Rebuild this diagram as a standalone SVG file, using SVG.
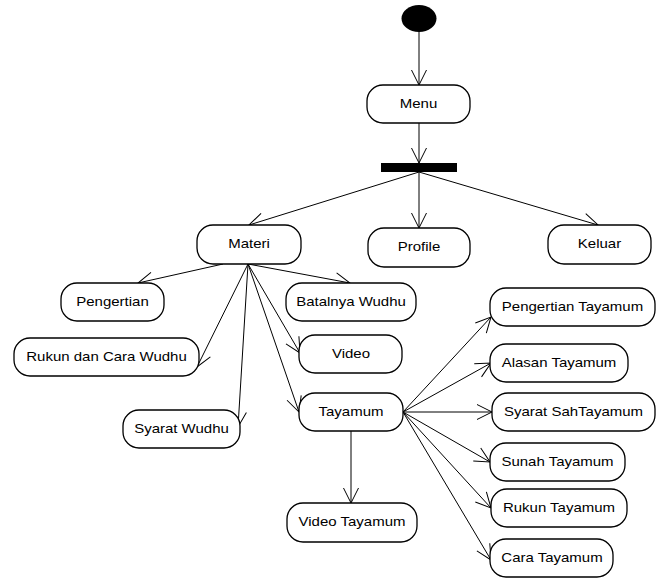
<svg xmlns="http://www.w3.org/2000/svg" width="664" height="578" viewBox="0 0 664 578">
<defs>
<style>
.n{fill:#fff;stroke:#000;stroke-width:1.3}
.t{font-family:"Liberation Sans",Arial,sans-serif;font-size:12.5px;fill:#000;text-anchor:middle}
.c{fill:none;stroke:#000;stroke-width:1}
</style>
<marker id="a" markerUnits="userSpaceOnUse" markerWidth="20" markerHeight="20" refX="16" refY="8" orient="auto" overflow="visible">
<path d="M1,0.5 L16,8 L1,15.5" fill="none" stroke="#000" stroke-width="1"/>
</marker>
</defs>
<rect width="664" height="578" fill="#fff"/>
<g id="connectors" class="c" marker-end="url(#a)">
<line x1="419" y1="31" x2="419" y2="85"/>
<line x1="419" y1="123" x2="419" y2="163"/>
<line x1="419" y1="172" x2="249" y2="225"/>
<line x1="419" y1="172" x2="419" y2="228"/>
<line x1="419" y1="172" x2="598" y2="225"/>
<line x1="223" y1="264" x2="138" y2="283"/>
<line x1="248" y1="264" x2="350" y2="283"/>
<line x1="248" y1="264" x2="197" y2="367"/>
<line x1="248" y1="264" x2="238" y2="427"/>
<line x1="248" y1="264" x2="300" y2="353"/>
<line x1="248" y1="264" x2="299" y2="412"/>
<line x1="351" y1="431" x2="351" y2="503"/>
<line x1="403" y1="412" x2="491" y2="317"/>
<line x1="403" y1="412" x2="491" y2="363"/>
<line x1="403" y1="412" x2="492" y2="412"/>
<line x1="403" y1="412" x2="490" y2="462"/>
<line x1="403" y1="412" x2="491" y2="508"/>
<line x1="403" y1="412" x2="491" y2="560"/>
</g>
<g id="start"><ellipse cx="419" cy="18.5" rx="17.5" ry="13.5" fill="#000"/></g>
<g id="fork"><rect x="381" y="163" width="76" height="9" fill="#000"/></g>
<g id="menu"><rect class="n" x="367" y="85" width="103" height="38" rx="16"/><text class="t" transform="translate(418.5,108) scale(1.2,1)">Menu</text></g>
<g id="materi"><rect class="n" x="197" y="225" width="104" height="39" rx="16"/><text class="t" transform="translate(249,248) scale(1.2,1)">Materi</text></g>
<g id="profile"><rect class="n" x="368" y="228" width="102" height="39" rx="16"/><text class="t" transform="translate(419,251) scale(1.2,1)">Profile</text></g>
<g id="keluar"><rect class="n" x="548" y="225" width="103" height="39" rx="16"/><text class="t" transform="translate(599.5,248) scale(1.2,1)">Keluar</text></g>
<g id="pengertian"><rect class="n" x="61" y="283" width="103" height="38" rx="16"/><text class="t" transform="translate(112.5,306) scale(1.2,1)">Pengertian</text></g>
<g id="batalnya"><rect class="n" x="286" y="283" width="130" height="38" rx="16"/><text class="t" transform="translate(351,306) scale(1.2,1)">Batalnya Wudhu</text></g>
<g id="rukun"><rect class="n" x="14" y="338" width="185" height="38" rx="16"/><text class="t" transform="translate(106.5,361) scale(1.2,1)">Rukun dan Cara Wudhu</text></g>
<g id="video"><rect class="n" x="299" y="335" width="103" height="38" rx="16"/><text class="t" transform="translate(351,358) scale(1.2,1)">Video</text></g>
<g id="syarat"><rect class="n" x="123" y="410" width="117" height="38" rx="16"/><text class="t" transform="translate(181.5,433) scale(1.2,1)">Syarat Wudhu</text></g>
<g id="tayamum"><rect class="n" x="299" y="393" width="104" height="38" rx="16"/><text class="t" transform="translate(351,416) scale(1.2,1)">Tayamum</text></g>
<g id="videotayamum"><rect class="n" x="287" y="503" width="130" height="39" rx="16"/><text class="t" transform="translate(352,526) scale(1.2,1)">Video Tayamum</text></g>
<g id="pengertiantayamum"><rect class="n" x="490" y="288" width="165" height="38" rx="16"/><text class="t" transform="translate(572.5,311) scale(1.2,1)">Pengertian Tayamum</text></g>
<g id="alasan"><rect class="n" x="490" y="344" width="138" height="38" rx="16"/><text class="t" transform="translate(559,367) scale(1.2,1)">Alasan Tayamum</text></g>
<g id="syaratsah"><rect class="n" x="492" y="393" width="163" height="38" rx="16"/><text class="t" transform="translate(573.5,416) scale(1.2,1)">Syarat SahTayamum</text></g>
<g id="sunah"><rect class="n" x="490" y="443" width="135" height="38" rx="16"/><text class="t" transform="translate(557.5,466) scale(1.2,1)">Sunah Tayamum</text></g>
<g id="rukuntayamum"><rect class="n" x="491" y="489" width="136" height="38" rx="16"/><text class="t" transform="translate(559,512) scale(1.2,1)">Rukun Tayamum</text></g>
<g id="cara"><rect class="n" x="490" y="539" width="123" height="38" rx="16"/><text class="t" transform="translate(552,562) scale(1.2,1)">Cara Tayamum</text></g>
</svg>
